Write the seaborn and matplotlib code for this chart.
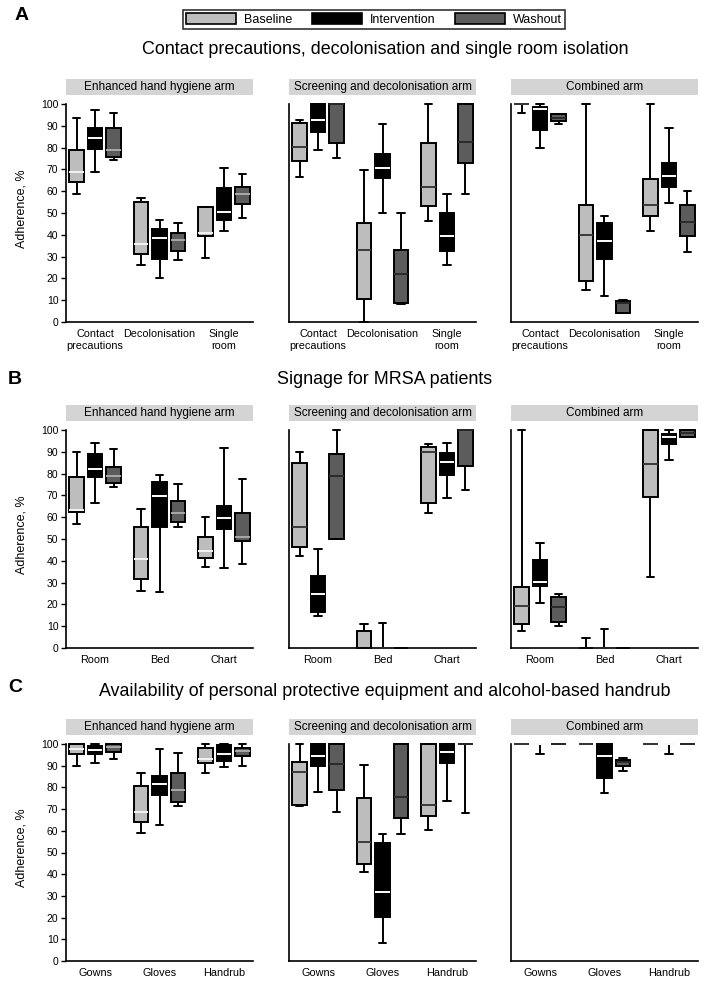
import numpy as np
import pandas as pd
import matplotlib
matplotlib.use("Agg")
import matplotlib.pyplot as plt
from matplotlib.patches import Rectangle, Patch
import seaborn as sns

# ---------------- data: five-number summaries (low whisker, Q1, median, Q3, high whisker)
PHASES = ["Baseline", "Intervention", "Washout"]
ARMS = ["Enhanced hand hygiene arm", "Screening and decolonisation arm", "Combined arm"]

A_CATS = ["Contact\nprecautions", "Decolonisation", "Single\nroom"]
B_CATS = ["Room", "Bed", "Chart"]
C_CATS = ["Gowns", "Gloves", "Handrub"]

ROW_TITLES = ["Contact precautions, decolonisation and single room isolation",
              "Signage for MRSA patients",
              "Availability of personal protective equipment and alcohol-based handrub"]
ROW_LETTERS = ["A", "B", "C"]

# order: cat1 (B, I, W), cat2 (B, I, W), cat3 (B, I, W)
A_hand_hygiene = [
    (58.5, 64.2, 68.9, 78.8, 93.8), (68.9, 79.2, 84.6, 89.2, 97.2), (74.2, 75.7, 78.8, 89.2, 96.0),
    (26.2, 31.4, 36.0, 55.0, 56.9), (20.3, 28.8, 38.5, 42.5, 47.0), (28.3, 32.5, 37.7, 40.6, 45.2),
    (29.5, 39.4, 40.8, 52.8, 52.8), (41.8, 46.8, 50.5, 61.5, 70.8), (47.7, 54.3, 58.9, 62.0, 67.7),
]
A_screening = [
    (66.6, 74.0, 80.3, 91.4, 92.6), (79.0, 87.0, 92.8, 100, 100), (75.2, 82.0, 100, 100, 100),
    (0.0, 10.6, 32.9, 45.2, 69.5), (49.8, 66.0, 70.6, 77.0, 90.9), (8.3, 8.8, 22.2, 32.9, 49.8),
    (46.3, 53.2, 61.8, 82.0, 100), (26.3, 32.5, 39.5, 49.8, 58.9), (58.5, 73.0, 82.5, 100, 100),
]
A_combined = [
    (96.0, 100, 100, 100, 100), (80.0, 88.2, 97.7, 98.5, 100), (90.8, 92.3, 93.8, 95.4, 95.4),
    (14.6, 18.6, 40.0, 53.8, 100), (11.8, 28.8, 37.2, 45.2, 48.8), (4.2, 4.2, 8.9, 9.5, 10.0),
    (41.8, 48.8, 53.5, 65.5, 100), (54.6, 61.8, 66.8, 73.0, 89.0), (32.0, 39.5, 46.0, 53.7, 60.0),
]
B_hand_hygiene = [
    (56.8, 62.4, 63.2, 78.5, 89.8), (66.4, 78.5, 82.0, 88.9, 93.9), (74.0, 75.6, 79.1, 83.2, 91.1),
    (26.3, 31.6, 40.8, 55.4, 63.7), (25.8, 55.4, 69.9, 76.2, 79.5), (55.7, 57.6, 62.0, 67.6, 75.1),
    (37.1, 41.1, 44.6, 50.8, 60.0), (36.8, 54.4, 59.7, 65.3, 91.6), (38.5, 49.2, 51.0, 62.0, 77.3),
]
B_screening = [
    (42.0, 46.4, 55.6, 84.7, 89.9), (14.5, 16.5, 24.9, 33.0, 45.3), (50.1, 50.1, 78.9, 88.9, 100),
    (0, 0, 0, 7.6, 11.0), (0, 0, 0, 0, 11.6), (0, 0, 0, 0, 0),
    (61.8, 66.6, 90.0, 92.4, 93.4), (68.7, 79.4, 85.3, 89.3, 93.9), (72.7, 83.5, 100, 100, 100),
]
B_combined = [
    (7.6, 10.8, 19.3, 28.0, 100), (20.5, 28.5, 30.4, 40.3, 48.2), (9.9, 11.9, 18.7, 23.6, 24.7),
    (0, 0, 0, 0, 4.6), (0, 0, 0, 0, 8.7), (0, 0, 0, 0, 0),
    (32.7, 69.3, 84.5, 100, 100), (86.3, 93.6, 97.0, 98.2, 100), (97.0, 97.0, 98.5, 100, 100),
]
C_hand_hygiene = [
    (90.0, 95.4, 97.5, 100, 100), (91.2, 95.4, 97.2, 99.0, 100), (93.1, 96.2, 98.5, 100, 100),
    (59.0, 63.9, 68.8, 80.6, 86.5), (62.5, 76.7, 81.6, 85.3, 97.5), (71.6, 73.4, 79.0, 86.5, 95.7),
    (86.5, 91.1, 92.9, 98.0, 100), (89.6, 92.3, 95.2, 99.4, 100), (90.0, 94.6, 96.9, 98.0, 100),
]
C_screening = [
    (71.6, 71.9, 87.3, 91.8, 100), (78.0, 89.9, 94.6, 100, 100), (68.8, 79.0, 91.0, 100, 100),
    (41.0, 44.6, 54.8, 75.0, 90.2), (8.1, 20.2, 32.0, 54.2, 58.3), (58.3, 65.7, 75.5, 100, 100),
    (60.5, 66.9, 72.0, 100, 100), (73.7, 91.3, 96.5, 100, 100), (68.0, 100, 100, 100, 100),
]
C_combined = [
    (100, 100, 100, 100, 100), (95.5, 100, 100, 100, 100), (100, 100, 100, 100, 100),
    (100, 100, 100, 100, 100), (77.6, 84.4, 94.3, 100, 100), (87.6, 90.0, 91.6, 92.6, 93.7),
    (100, 100, 100, 100, 100), (95.5, 100, 100, 100, 100), (100, 100, 100, 100, 100),
]

ROWS = [
    (A_CATS, [A_hand_hygiene, A_screening, A_combined]),
    (B_CATS, [B_hand_hygiene, B_screening, B_combined]),
    (C_CATS, [C_hand_hygiene, C_screening, C_combined]),
]

# ---------------- style
sns.set_style("white")
plt.rcParams["font.family"] = ["Liberation Sans", "DejaVu Sans"]
plt.rcParams["text.color"] = "black"
plt.rcParams["axes.labelcolor"] = "black"
plt.rcParams["xtick.color"] = "black"
plt.rcParams["ytick.color"] = "black"

FILL = {"Baseline": "#bdbdbd", "Intervention": "#000000", "Washout": "#5c5c5c"}
MED_LEFT = {"Baseline": "#f4f4f4", "Intervention": "#ffffff", "Washout": "#a9a9a9"}
MED_OTHER = {"Baseline": "#3a3a3a", "Intervention": "#ffffff", "Washout": "#2a2a2a"}
HEADER = "#d4d4d4"

W, H = 706, 989
fig = plt.figure(figsize=(W / 100, H / 100), dpi=100)

COL_X = [(66, 253), (289, 476), (511, 698)]
ROW_Y = [(104, 322), (430, 648), (744, 961)]
TITLE_Y = [50, 380, 692]
LETTER_XY = [(22, 15), (15, 380), (15, 688)]


def fig_rect(x0, y0, x1, y1):
    return [x0 / W, 1 - y1 / H, (x1 - x0) / W, (y1 - y0) / H]


for r, (cats, panels) in enumerate(ROWS):
    y0, y1 = ROW_Y[r]
    for c, stats in enumerate(panels):
        x0, x1 = COL_X[c]
        ax = fig.add_axes(fig_rect(x0, y0, x1, y1))
        recs = []
        for k, st in enumerate(stats):
            cat = cats[k // 3]
            ph = PHASES[k % 3]
            for v in st:
                recs.append({"category": cat, "phase": ph, "value": v})
        df = pd.DataFrame(recs)
        sns.boxplot(data=df, x="category", y="value", hue="phase", order=cats,
                    hue_order=PHASES, palette=FILL, saturation=1, width=0.86, gap=0.2,
                    whis=(0, 100), linecolor="black", linewidth=1.4, fliersize=0,
                    legend=False, ax=ax)
        medc = MED_LEFT if c == 0 else MED_OTHER
        for cont, ph in zip(ax.containers, PHASES):
            try:
                for ln in cont.medians:
                    ln.set_color(medc[ph])
                    ln.set_linewidth(1.4)
            except AttributeError:
                pass
        for art in list(ax.lines) + list(ax.patches):
            art.set_clip_on(False)
        ax.set_xlim(-0.45, 2.45)
        ax.set_ylim(0, 100)
        ax.set_xlabel("")
        ax.set_ylabel("")
        for s in ["top", "right"]:
            ax.spines[s].set_visible(False)
        for s in ["left", "bottom"]:
            ax.spines[s].set_linewidth(1.2)
            ax.spines[s].set_color("black")
        ax.tick_params(axis="x", length=0, pad=5, labelsize=7.8)
        if c == 0:
            ax.set_yticks(np.arange(0, 101, 10))
            ax.tick_params(axis="y", left=True, direction="out", length=3.5, width=1,
                           labelsize=7.5, pad=2)
            ax.set_ylabel("Adherence, %", fontsize=9)
            ax.yaxis.set_label_coords(-0.208, 0.52)
        else:
            ax.tick_params(axis="y", left=False, labelleft=False)
        # strip header
        fig.add_artist(Rectangle((x0 / W, 1 - (y0 - 9) / H), (x1 - x0) / W, 16 / H,
                                 transform=fig.transFigure, facecolor=HEADER,
                                 edgecolor="none"))
        fig.text((x0 + x1) / 2 / W, 1 - (y0 - 17) / H, ARMS[c], ha="center", va="center",
                 fontsize=8.5)
    fig.text(385 / W, 1 - TITLE_Y[r] / H, ROW_TITLES[r], ha="center", va="center",
             fontsize=12.9)
    lx, ly = LETTER_XY[r]
    fig.text(lx / W, 1 - ly / H, ROW_LETTERS[r], ha="center", va="center",
             fontsize=14, fontweight="bold")

handles = [Patch(facecolor=FILL[p], edgecolor="black", linewidth=1.2) for p in PHASES]
leg = fig.legend(handles, PHASES, loc="center", bbox_to_anchor=(374 / W, 1 - 19.5 / H),
                 ncol=3, frameon=True, fancybox=False, edgecolor="black", fontsize=9,
                 handlelength=4.0, handleheight=0.9, columnspacing=1.6, handletextpad=0.6,
                 borderpad=0.25)
leg.get_frame().set_linewidth(1.2)

fig.savefig("out.png", dpi=100)
